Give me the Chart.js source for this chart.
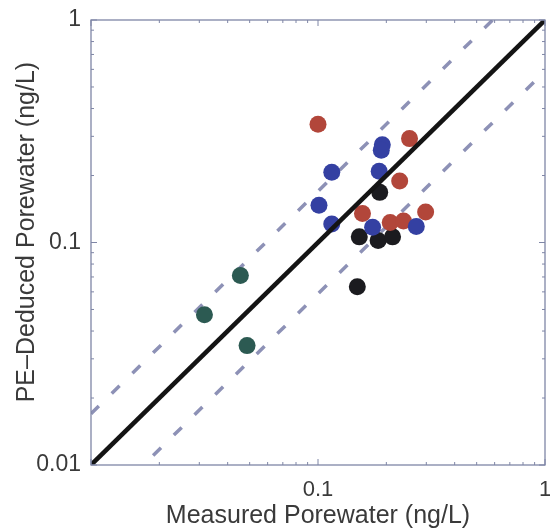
<!DOCTYPE html>
<html>
<head>
<meta charset="utf-8">
<script src="https://cdn.jsdelivr.net/npm/chart.js@4.4.1/dist/chart.umd.min.js"></script>
<style>
  html, body { margin: 0; padding: 0; background: #fff; }
  #wrap { width: 550px; height: 531px; }
</style>
</head>
<body>
<div id="wrap"><canvas id="porewaterChart" width="550" height="531"></canvas></div>
<script>
// measured vs PE-deduced porewater, one group per colour
const blueX = [0.192, 0.190, 0.115, 0.186, 0.101, 0.115, 0.174, 0.271];
const blueY = [0.275, 0.260, 0.207, 0.209, 0.147, 0.121, 0.117, 0.118];

const redX = [0.100, 0.253, 0.229, 0.157, 0.298, 0.208, 0.238];
const redY = [0.340, 0.293, 0.189, 0.135, 0.137, 0.123, 0.125];

const blackX = [0.187, 0.152, 0.184, 0.213, 0.149];
const blackY = [0.168, 0.106, 0.102, 0.106, 0.0633];

const tealX = [0.0455, 0.0316, 0.0487];
const tealY = [0.0710, 0.0474, 0.0344];

// 1:1 line and the factor-of-1.7 band
const lineX = [0.01, 1];
const oneToOneY = [0.01, 1];
const upperY = [0.017, 1.7];
const lowerY = [0.00588, 0.588];

const xTicks = [0.01, 0.1, 1];
const xTickLabels = ['', '0.1', '1'];
const yTicks = [0.01, 0.1, 1];
const yTickLabels = ['0.01', '0.1', '1'];

const xTitle = 'Measured Porewater (ng/L)';
// leading spaces nudge the rotated title up a little
const yTitle = '   PE–Deduced Porewater (ng/L)';

const textColor = '#3a3a3a';
const frameColor = '#7f86a6';
const fontFamily = 'Liberation Sans, Arial, sans-serif';

function toPoints(xs, ys) {
    return xs.map((x, i) => ({ x: x, y: ys[i] }));
}

function scatterSet(label, xs, ys, color, order) {
    return {
        type: 'scatter',
        label: label,
        data: toPoints(xs, ys),
        backgroundColor: color,
        borderColor: color,
        borderWidth: 0,
        pointRadius: 8.5,
        pointHoverRadius: 8.5,
        order: order
    };
}

function lineSet(label, ys, color, width, dash, order) {
    return {
        type: 'line',
        label: label,
        data: toPoints(lineX, ys),
        borderColor: color,
        borderWidth: width,
        borderDash: dash,
        borderCapStyle: 'butt',
        pointRadius: 0,
        fill: false,
        order: order
    };
}

// box around the plot with small inward ticks, like the old MATLAB axes
const framePlugin = {
    id: 'frame',
    afterDraw(chart) {
        const { ctx, chartArea: a, scales } = chart;
        ctx.save();
        ctx.strokeStyle = frameColor;
        ctx.lineWidth = 1.3;
        ctx.strokeRect(a.left, a.top, a.right - a.left, a.bottom - a.top);

        const marks = [];
        [0.01, 0.1].forEach(d => {
            for (let k = 1; k < 10; k++) marks.push({ v: d * k, major: k === 1 });
        });
        marks.push({ v: 1, major: true });

        ctx.lineWidth = 1;
        ctx.beginPath();
        marks.forEach(m => {
            const len = m.major ? 6 : 3;
            const px = scales.x.getPixelForValue(m.v);
            const py = scales.y.getPixelForValue(m.v);
            ctx.moveTo(px, a.bottom); ctx.lineTo(px, a.bottom - len);
            ctx.moveTo(px, a.top); ctx.lineTo(px, a.top + len);
            ctx.moveTo(a.left, py); ctx.lineTo(a.left + len, py);
            ctx.moveTo(a.right, py); ctx.lineTo(a.right - len, py);
        });
        ctx.stroke();
        ctx.restore();
    }
};

const ctx = document.getElementById('porewaterChart').getContext('2d');
const porewaterChart = new Chart(ctx, {
    data: {
        datasets: [
            lineSet('1:1', oneToOneY, '#141414', 4.5, [], 0),
            scatterSet('blue', blueX, blueY, '#3440a2', 1),
            scatterSet('red', redX, redY, '#b2463a', 2),
            scatterSet('black', blackX, blackY, '#1b1b1f', 3),
            scatterSet('teal', tealX, tealY, '#2c5a52', 4),
            lineSet('upper', upperY, '#8d91b6', 3.5, [11, 18], 5),
            lineSet('lower', lowerY, '#8d91b6', 3.5, [11, 18], 5)
        ]
    },
    options: {
        responsive: false,
        animation: false,
        layout: { autoPadding: false, padding: { top: 20, right: 5, left: 0, bottom: 0 } },
        plugins: {
            legend: { display: false },
            tooltip: { enabled: false }
        },
        scales: {
            x: {
                type: 'logarithmic',
                min: 0.01,
                max: 1,
                afterBuildTicks: scale => { scale.ticks = xTicks.map(v => ({ value: v })); },
                afterFit: scale => {
                    scale.height = 66;
                    scale.paddingLeft = 0;
                    scale.paddingRight = 0;
                },
                ticks: {
                    autoSkip: false,
                    maxRotation: 0,
                    padding: 12,
                    color: textColor,
                    font: { family: fontFamily, size: 22 },
                    callback: (value, index) => xTickLabels[index]
                },
                grid: { display: false, drawTicks: false },
                border: { display: false },
                title: {
                    display: true,
                    text: xTitle,
                    color: textColor,
                    padding: { top: 0, bottom: 0 },
                    font: { family: fontFamily, size: 25 }
                }
            },
            y: {
                type: 'logarithmic',
                min: 0.01,
                max: 1,
                afterBuildTicks: scale => { scale.ticks = yTicks.map(v => ({ value: v })); },
                afterFit: scale => {
                    scale.width = 91;
                    scale.paddingTop = 0;
                    scale.paddingBottom = 0;
                },
                ticks: {
                    autoSkip: false,
                    padding: 10,
                    color: textColor,
                    font: { family: fontFamily, size: 23 },
                    callback: (value, index) => yTickLabels[index]
                },
                grid: { display: false, drawTicks: false },
                border: { display: false },
                title: {
                    display: true,
                    text: yTitle,
                    color: textColor,
                    padding: { top: 12, bottom: 0 },
                    font: { family: fontFamily, size: 25 }
                }
            }
        }
    },
    plugins: [framePlugin]
});
</script>
</body>
</html>
